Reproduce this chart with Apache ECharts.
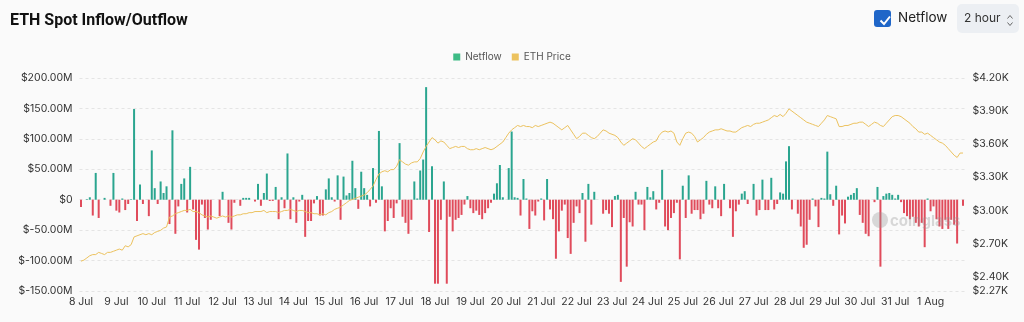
<!DOCTYPE html>
<html>
<head>
<meta charset="utf-8">
<script src="https://cdn.jsdelivr.net/npm/echarts@6/dist/echarts.min.js"></script>
<style>
html,body{margin:0;padding:0;background:#fafafa;}
#chart{width:1024px;height:322px;}
</style>
</head>
<body>
<div id="chart"></div>
<script>
// ---- data ----
const days = ['8 Jul','9 Jul','10 Jul','11 Jul','12 Jul','13 Jul','14 Jul','15 Jul','16 Jul','17 Jul','18 Jul','19 Jul','20 Jul','21 Jul','22 Jul','23 Jul','24 Jul','25 Jul','26 Jul','27 Jul','28 Jul','29 Jul','30 Jul','31 Jul','1 Aug'];
const hours = ['00:00','02:00','04:00','06:00','08:00','10:00','12:00','14:00','16:00','18:00','20:00','22:00'];

// netflow in $M, one value per 2 hours
const netflow = [
  -12, 0, 1, 4, -26, 44, -30, 0, 3, 0, -10, 44,
  -18, -21, 2, -17, -7, 1, 149, -35, 25, -7, 0, -27,
  81, 19, -7, 30, 11, 22, -40, 114, -56, -11, 26, 35,
  -21, 54, -16, -66, -82, -8, -30, -49, -33, 0, 0, -27,
  13, 0, -38, -49, -5, 0, -10, 3, 3, 3, 0, -3,
  26, -10, 11, 43, -2, -2, 21, -32, 4, -14, 76, -32,
  4, -38, -3, 8, -61, -35, -35, -6, 6, -26, -26, 17,
  35, 4, -3, 40, -33, 38, 7, 11, 64, 19, -15, 46,
  19, 8, -11, 52, -5, 113, 22, -52, -35, -14, -30, -6,
  93, -28, -38, -56, -33, 30, 2, 48, 66, 185, -53, 55,
  -138, -138, -33, 30, -138, -28, -52, -33, -30, -25, -8, 6,
  -14, -22, -18, -25, -32, -22, -14, -5, 10, 27, 57, 4,
  0, 52, 112, 4, 3, -26, 34, 2, -48, -19, -26, -3,
  2, -34, 34, -16, -32, -97, -52, -18, -8, -63, -89, -38,
  -11, -22, 11, -69, 26, -41, 13, 0, 0, -23, -17, -23,
  -45, 6, 8, -135, -30, -110, -37, -44, 13, -8, -8, -50,
  21, 4, 14, -16, -5, 49, -44, -50, -30, -22, -5, -98,
  23, -30, 40, -23, -17, -17, -32, -23, 31, -8, -14, 22,
  -14, -27, 26, 0, -14, -61, -19, -8, 10, 14, -7, 0,
  26, -26, -17, 33, -17, -17, 36, -16, -7, 12, 10, 63,
  88, -16, 0, -23, -44, -79, -74, -33, 2, -11, -45, 3,
  2, 79, 9, -10, 23, -57, -26, -39, 5, 8, 11, 19,
  -25, -38, -56, -60, 0, -4, 21, -110, 6, 10, 11, 8,
  2, 8, -4, -22, -27, -32, -28, -38, -44, -38, -78, 2,
  -19, -11, -32, -44, -48, -33, -48, -33, -41, -72, 0, -10
];

// ETH price in $K, one value per 2 hours
const ethPrice = [
  2.54, 2.55, 2.57, 2.59, 2.60, 2.60, 2.62, 2.61, 2.60, 2.62, 2.62, 2.63,
  2.64, 2.65, 2.64, 2.68, 2.67, 2.69, 2.76, 2.77, 2.78, 2.79, 2.78, 2.79,
  2.78, 2.80, 2.81, 2.82, 2.84, 2.85, 2.94, 2.95, 2.97, 2.98, 2.99, 3.00,
  3.00, 3.01, 2.99, 2.99, 2.98, 2.96, 2.95, 2.94, 2.95, 2.94, 2.93, 2.94,
  2.95, 2.94, 2.95, 2.94, 2.95, 2.96, 2.96, 2.97, 2.97, 2.98, 2.98, 2.99,
  2.99, 2.99, 3.00, 2.98, 2.99, 2.99, 2.99, 2.98, 2.99, 3.00, 3.00, 3.01,
  3.00, 2.99, 3.00, 3.00, 2.99, 2.98, 2.98, 2.97, 2.97, 2.96, 2.97, 2.96,
  2.98, 2.99, 3.01, 3.02, 3.03, 3.05, 3.07, 3.09, 3.10, 3.11, 3.12, 3.13,
  3.14, 3.16, 3.19, 3.22, 3.28, 3.33, 3.35, 3.36, 3.35, 3.37, 3.37, 3.40,
  3.46, 3.44, 3.42, 3.41, 3.43, 3.44, 3.44, 3.47, 3.53, 3.58, 3.62, 3.66,
  3.64, 3.61, 3.63, 3.62, 3.59, 3.56, 3.57, 3.58, 3.57, 3.58, 3.58, 3.56,
  3.55, 3.55, 3.56, 3.55, 3.56, 3.57, 3.56, 3.55, 3.56, 3.58, 3.60, 3.62,
  3.66, 3.70, 3.73, 3.75, 3.77, 3.76, 3.77, 3.76, 3.76, 3.75, 3.77, 3.76,
  3.77, 3.78, 3.79, 3.80, 3.79, 3.77, 3.75, 3.73, 3.75, 3.77, 3.73, 3.69,
  3.65, 3.67, 3.70, 3.70, 3.68, 3.66, 3.65, 3.67, 3.70, 3.73, 3.72, 3.70,
  3.69, 3.68, 3.66, 3.62, 3.59, 3.61, 3.63, 3.65, 3.64, 3.61, 3.58, 3.56,
  3.58, 3.60, 3.62, 3.63, 3.68, 3.71, 3.72, 3.71, 3.72, 3.70, 3.62, 3.59,
  3.65, 3.70, 3.71, 3.70, 3.67, 3.62, 3.64, 3.66, 3.69, 3.71, 3.72, 3.73,
  3.73, 3.74, 3.73, 3.72, 3.72, 3.71, 3.71, 3.73, 3.75, 3.76, 3.77, 3.76,
  3.78, 3.79, 3.79, 3.80, 3.81, 3.82, 3.84, 3.86, 3.85, 3.87, 3.85, 3.88,
  3.92, 3.90, 3.88, 3.86, 3.84, 3.82, 3.80, 3.79, 3.78, 3.77, 3.76, 3.79,
  3.82, 3.86, 3.85, 3.84, 3.83, 3.76, 3.76, 3.77, 3.77, 3.78, 3.79, 3.79,
  3.80, 3.80, 3.78, 3.76, 3.78, 3.80, 3.79, 3.77, 3.76, 3.79, 3.82, 3.85,
  3.86, 3.86, 3.85, 3.83, 3.81, 3.79, 3.76, 3.74, 3.71, 3.71, 3.69, 3.70,
  3.68, 3.66, 3.64, 3.62, 3.61, 3.59, 3.56, 3.53, 3.50, 3.48, 3.52, 3.52
];

// axis ticks
const leftMin = -150, leftMax = 200, leftStep = 50;
const rightTicks = [2.27, 2.40, 2.70, 3.00, 3.30, 3.60, 3.90, 4.20];

// ---- chart ----
const categories = [];
days.forEach(d => hours.forEach(h => categories.push(d + '|' + h)));

const GREEN = '#2aa58f', RED = '#e04b5b', LEGEND_GREEN = '#3dbb85', YELLOW = '#ecc25e';
const chart = echarts.init(document.getElementById('chart'), null, {renderer: 'canvas'});
const FONT = 'Inter, "Noto Sans", sans-serif';

chart.setOption({
  backgroundColor: '#fafafa',
  animation: false,
  textStyle: {fontFamily: FONT},
  title: {
    text: 'ETH Spot Inflow/Outflow',
    left: 5, top: 8,
    textStyle: {fontSize: 16, fontWeight: 'bold', color: '#111', fontFamily: 'Roboto, Inter, sans-serif'}
  },
  legend: {
    top: 47, left: 'center',
    icon: 'rect', itemWidth: 7, itemHeight: 7, itemGap: 10,
    textStyle: {fontSize: 10, color: '#555', fontFamily: FONT},
    data: [
      {name: 'Netflow', itemStyle: {color: LEGEND_GREEN}},
      {name: 'ETH Price', itemStyle: {color: YELLOW}}
    ]
  },
  grid: {left: 79.5, right: 59.5, top: 78, bottom: 31},
  xAxis: {
    type: 'category',
    data: categories,
    boundaryGap: true,
    axisLine: {show: false},
    axisTick: {show: false},
    axisLabel: {
      interval: 11, margin: 5, fontSize: 10.5, color: '#333', fontFamily: FONT,
      formatter: v => v.split('|')[0]
    }
  },
  yAxis: [
    {
      type: 'value', min: leftMin, max: leftMax, interval: leftStep,
      axisLine: {show: false}, axisTick: {show: false},
      splitLine: {lineStyle: {type: [3, 3], color: '#e4e4e4'}},
      axisLabel: {
        margin: 7, fontSize: 10.5, color: '#333', fontFamily: FONT,
        formatter: v => v === 0 ? '$0' : '$' + v.toFixed(2) + 'M'
      }
    },
    {
      type: 'value', min: rightTicks[0], max: rightTicks[rightTicks.length - 1],
      position: 'right',
      axisLine: {show: false}, axisTick: {show: false},
      splitLine: {show: false},
      axisLabel: {
        customValues: rightTicks,
        margin: 8, fontSize: 10.5, color: '#333', fontFamily: FONT,
        formatter: v => '$' + v.toFixed(2) + 'K'
      }
    }
  ],
  series: [
    {
      name: 'Netflow', type: 'bar', yAxisIndex: 0,
      data: netflow, barWidth: 2,
      itemStyle: {color: p => p.value >= 0 ? GREEN : RED}
    },
    {
      name: 'ETH Price', type: 'line', yAxisIndex: 1,
      data: ethPrice, symbol: 'none', smooth: false,
      lineStyle: {width: 1, color: YELLOW}, itemStyle: {color: YELLOW}, z: 3
    }
  ],
  graphic: [
    // checkbox
    {type: 'rect', left: 874, top: 10, shape: {width: 17, height: 17, r: 3}, style: {fill: '#1f66c8'}},
    {type: 'polyline', left: 878, top: 14, shape: {points: [[0, 5], [3.5, 8.5], [9.5, 1]]},
      style: {stroke: '#fff', lineWidth: 2, fill: null}},
    {type: 'text', left: 898, top: 11, style: {text: 'Netflow', fontSize: 13.5, fill: '#222', fontFamily: FONT}},
    // dropdown
    {type: 'rect', left: 957, top: 4, shape: {width: 62, height: 29, r: 5}, style: {fill: '#eceff3'}},
    {type: 'text', left: 964, top: 12, style: {text: '2 hour', fontSize: 12, fill: '#333', fontFamily: FONT}},
    {type: 'polyline', left: 1005, top: 13, shape: {points: [[0, 3], [2.5, 0], [5, 3]]},
      style: {stroke: '#666', lineWidth: 1, fill: null}},
    {type: 'polyline', left: 1005, top: 20, shape: {points: [[0, 0], [2.5, 3], [5, 0]]},
      style: {stroke: '#666', lineWidth: 1, fill: null}},
    // watermark
    {type: 'circle', left: 872, top: 212, shape: {r: 8}, style: {fill: 'rgba(150,150,150,0.35)'}, z: 10},
    {type: 'text', left: 890, top: 214, style: {text: 'coinglass', fontSize: 15, fontWeight: 'bold',
      fill: 'rgba(150,150,150,0.35)', fontFamily: FONT}, z: 10}
  ]
});
</script>
</body>
</html>
